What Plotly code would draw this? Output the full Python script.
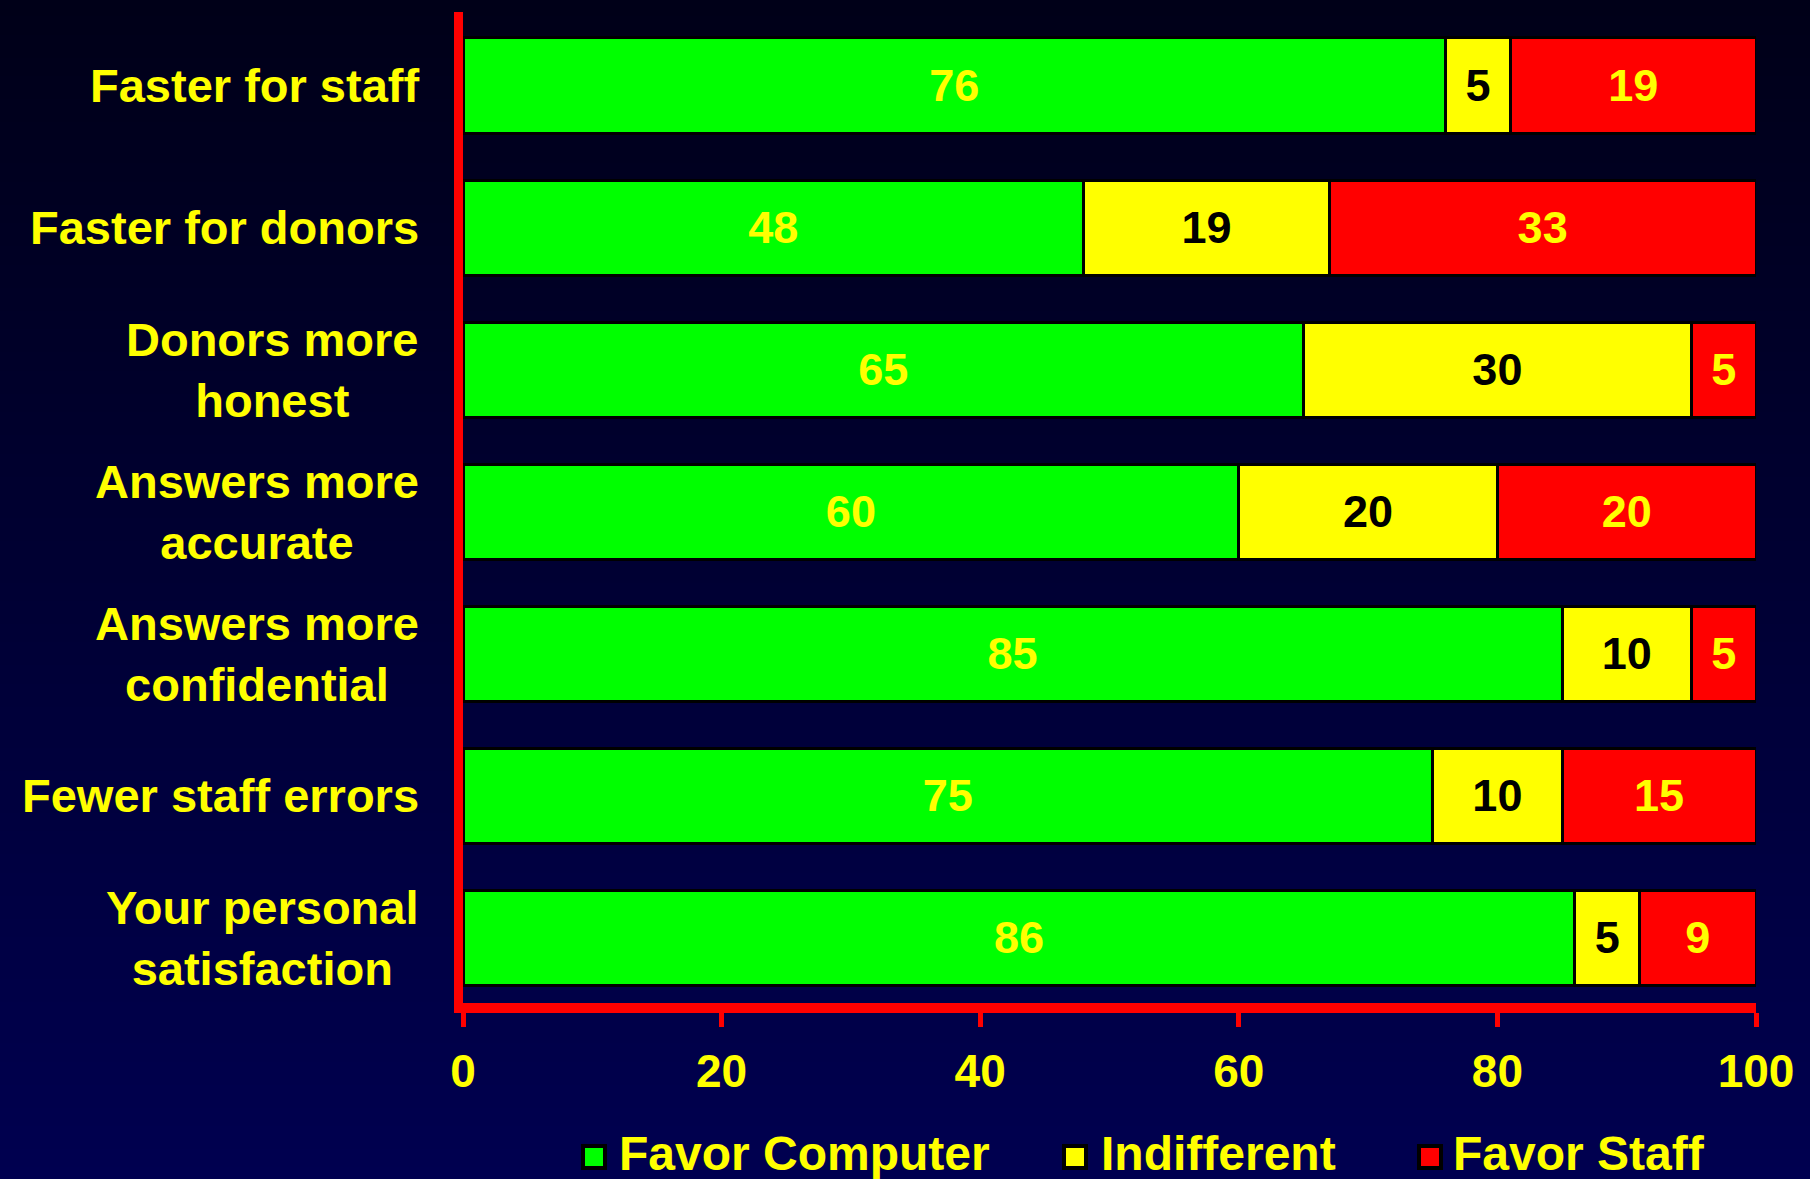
import base64, struct, zlib
import plotly.graph_objects as go

# ---------------- data ----------------
categories = [
    "Faster for staff",
    "Faster for donors",
    "Donors more<br>honest",
    "Answers more<br>accurate",
    "Answers more<br>confidential",
    "Fewer staff errors",
    "Your personal<br>satisfaction",
]
favor_computer = [76, 48, 65, 60, 85, 75, 86]
indifferent = [5, 19, 30, 20, 10, 10, 5]
favor_staff = [19, 33, 5, 20, 5, 15, 9]
x_ticks = [0, 20, 40, 60, 80, 100]

series = [
    ("Favor Computer", favor_computer, "#00FF00", "#FFFF00"),
    ("Indifferent", indifferent, "#FFFF00", "#000000"),
    ("Favor Staff", favor_staff, "#FF0000", "#FFFF00"),
]

# ---------------- geometry ----------------
W, H = 1810, 1179
ML, MR, MT, MB = 463, 54, 12, 176
PW, PH = W - ML - MR, H - MT - MB

FONT = "Liberation Sans, Arial, Helvetica, sans-serif"
YEL = "#FFFF00"


def png_gradient(top, bottom, h=256, w=2):
    raw = b""
    for i in range(h):
        t = i / (h - 1)
        c = bytes(round(top[k] + (bottom[k] - top[k]) * t) for k in range(3))
        raw += b"\x00" + c * w

    def chunk(tag, data):
        return (struct.pack(">I", len(data)) + tag + data +
                struct.pack(">I", zlib.crc32(tag + data) & 0xFFFFFFFF))

    png = b"\x89PNG\r\n\x1a\n"
    png += chunk(b"IHDR", struct.pack(">IIBBBBB", w, h, 8, 2, 0, 0, 0))
    png += chunk(b"IDAT", zlib.compress(raw, 9))
    png += chunk(b"IEND", b"")
    return "data:image/png;base64," + base64.b64encode(png).decode()


def px_x(px):
    return (px - ML) / PW


def px_y(py):
    return (MT + PH - py) / PH


fig = go.Figure()

for name, vals, color, tcolor in series:
    fig.add_trace(go.Bar(
        y=categories, x=vals, orientation="h", name=name,
        marker=dict(color=color, line=dict(color="#000000", width=3)),
        text=[str(v) for v in vals], textposition="inside",
        insidetextanchor="middle", textangle=0,
        textfont=dict(family=FONT, size=45, color=tcolor, weight="bold"),
        showlegend=False, hoverinfo="skip",
    ))

# legend entries, one legend per entry for exact placement
legend_names = ["legend", "legend2", "legend3"]
legend_text_px = [620, 1102, 1454]      # where each legend label starts
swatch_px = [594, 1075, 1430]           # swatch centres
SWATCH_Y = 1157
LEG_Y = 1152
for (name, vals, color, tcolor), lg in zip(series, legend_names):
    fig.add_trace(go.Scatter(
        x=[None], y=[None], mode="markers", name=name, legend=lg,
        marker=dict(symbol="square", size=16, color="rgba(0,0,0,0)",
                    line=dict(color="rgba(0,0,0,0)", width=0)),
        showlegend=True, hoverinfo="skip",
    ))

leg_common = dict(
    orientation="h", yanchor="middle", xanchor="left",
    bgcolor="rgba(0,0,0,0)", borderwidth=0,
    font=dict(family=FONT, size=48, color=YEL, weight="bold"),
)
legend_layout = {}
for lg, tx in zip(legend_names, legend_text_px):
    legend_layout[lg] = dict(leg_common, x=px_x(tx - 41), y=px_y(LEG_Y))

# legend swatches (larger than plotly's capped legend symbols)
shapes = []
for (name, vals, color, tcolor), cx in zip(series, swatch_px):
    shapes.append(dict(
        type="rect", xref="paper", yref="paper",
        x0=px_x(cx - 11), x1=px_x(cx + 11),
        y0=px_y(SWATCH_Y + 11), y1=px_y(SWATCH_Y - 11),
        fillcolor=color, line=dict(color="#000000", width=4), layer="above",
    ))

# category labels (centered lines, block right-aligned)
annotations = []
for cat in categories:
    annotations.append(dict(
        x=0, xref="paper", y=cat, yref="y", xanchor="right", yanchor="middle",
        xshift=-42, text=cat, showarrow=False, align="center",
        font=dict(family=FONT, size=47, color=YEL, weight="bold"),
    ))

fig.update_layout(
    width=W, height=H,
    margin=dict(l=ML, r=MR, t=MT, b=MB, pad=0, autoexpand=False),
    barmode="stack", bargap=0.33,
    paper_bgcolor="#000033", plot_bgcolor="rgba(0,0,0,0)",
    uniformtext=dict(minsize=45, mode="show"),
    annotations=annotations,
    shapes=shapes,
    images=[dict(
        source=png_gradient((0, 0, 24), (0, 0, 80)),
        xref="paper", yref="paper", x=-ML / PW, y=1 + MT / PH,
        sizex=W / PW, sizey=H / PH, xanchor="left", yanchor="top",
        sizing="stretch", layer="below",
    )],
    xaxis=dict(
        range=[0, 100], tickvals=x_ticks, ticktext=[str(t) for t in x_ticks],
        showgrid=False, zeroline=False, showline=True,
        linecolor="#FF0000", linewidth=10,
        ticks="outside", ticklen=14, tickwidth=5, tickcolor="#FF0000",
        ticklabelstandoff=5,
        tickfont=dict(family=FONT, size=46, color=YEL, weight="bold"),
    ),
    yaxis=dict(
        categoryorder="array", categoryarray=categories,
        range=[6.46, -0.518], showgrid=False, zeroline=False,
        showline=True, linecolor="#FF0000", linewidth=9,
        showticklabels=False, ticks="",
    ),
    **legend_layout,
)

fig.write_html(
    "out.html",
    config={"displayModeBar": False},
    post_script="document.body.style.margin='0';document.body.style.overflow='hidden';",
)
